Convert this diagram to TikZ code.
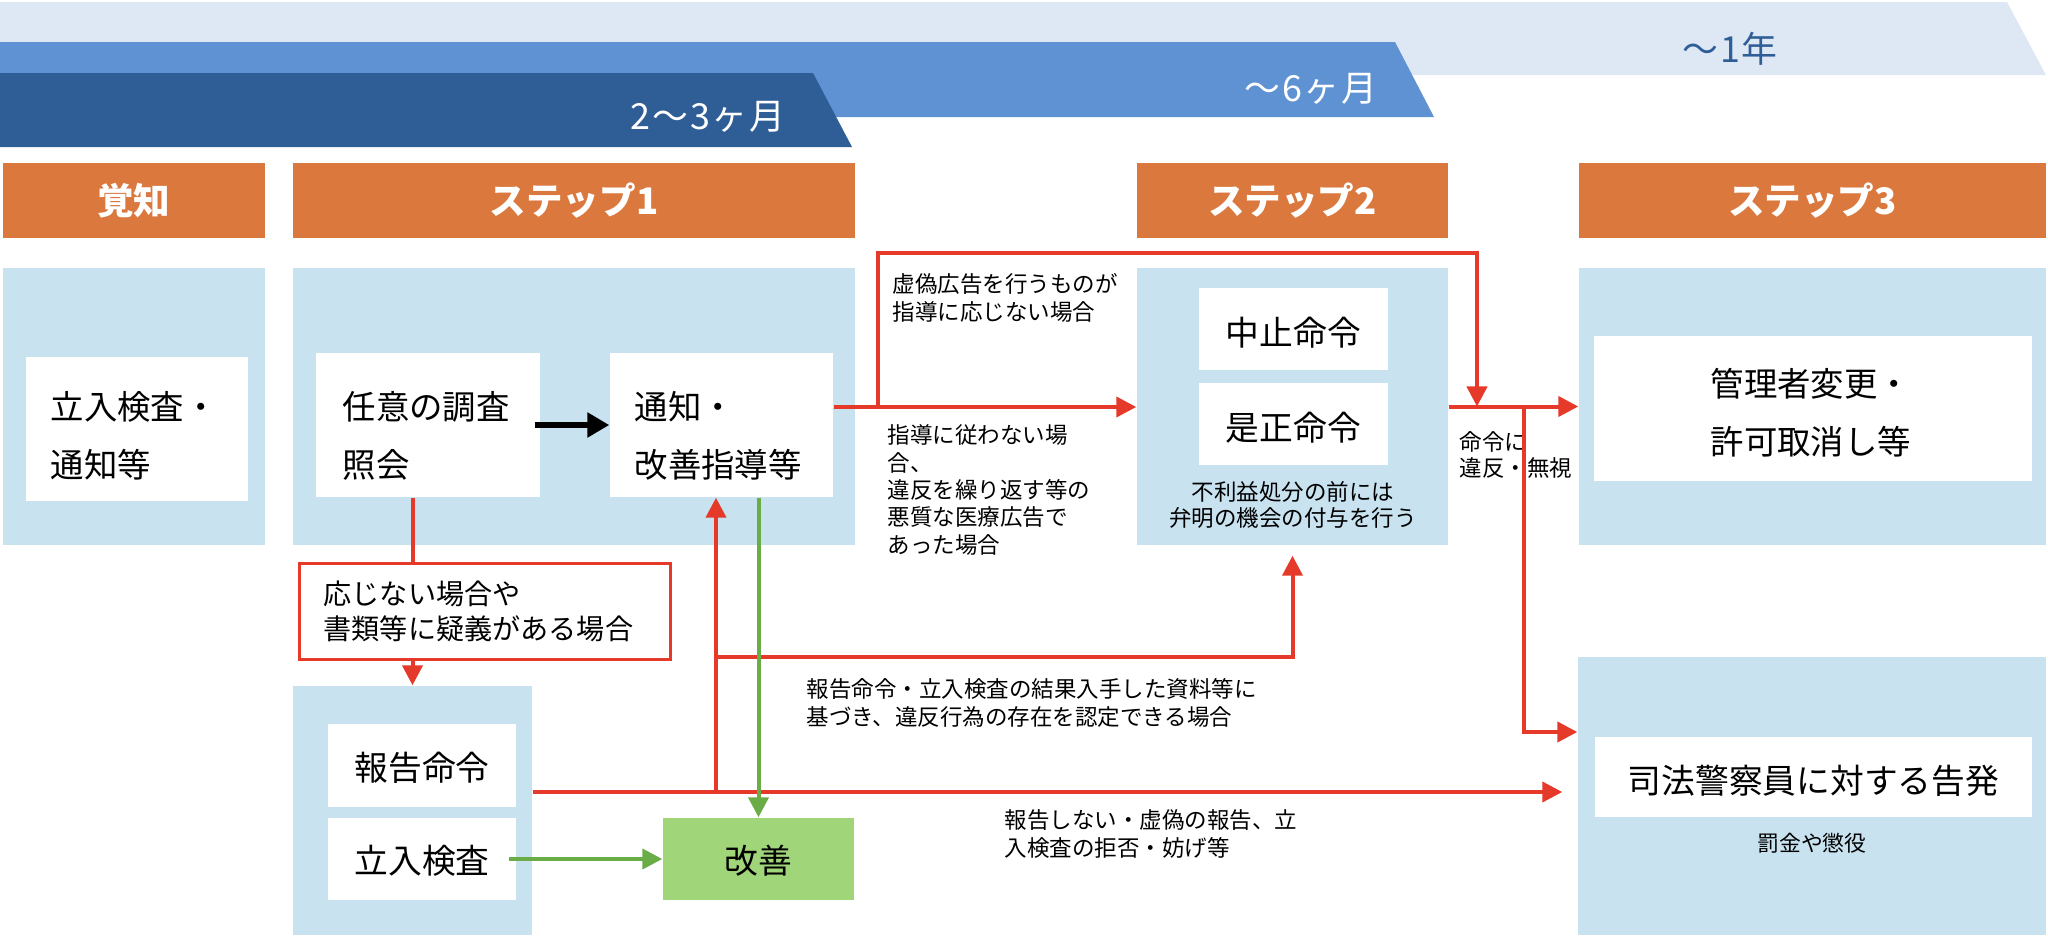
\documentclass[tikz,border=0pt]{standalone}
\usepackage{fontspec}
\setmainfont{Noto Sans CJK JP}
\usetikzlibrary{arrows.meta, calc, positioning, fit}

\definecolor{bandlight}{RGB}{222,232,245}
\definecolor{bandmid}{RGB}{95,146,210}
\definecolor{banddark}{RGB}{47,93,150}
\definecolor{hdrorange}{RGB}{218,120,62}
\definecolor{panelblue}{RGB}{200,226,240}
\definecolor{arrred}{RGB}{229,57,41}
\definecolor{arrgreen}{RGB}{106,172,70}
\definecolor{goodgreen}{RGB}{160,213,122}

\newcommand{\fsz}[2]{\fontsize{#1}{#2}\selectfont}

\begin{document}
\begin{tikzpicture}[x=0.01cm, y=-0.01cm,
    hdr/.style={fill=hdrorange, inner sep=0pt},
    hdrtext/.style={text=white, inner sep=0pt, font=\bfseries\fsz{10.4pt}{12pt}},
    panel/.style={fill=panelblue, inner sep=0pt},
    wbox/.style={fill=white, inner sep=0pt},
    big/.style={font=\fsz{9.5pt}{16.5pt}, align=left, inner sep=0pt, anchor=west},
    mid/.style={font=\fsz{9.6pt}{12pt}, inner sep=0pt},
    note/.style={font=\fsz{6.4pt}{8pt}, align=left, inner sep=0pt, anchor=west},
    bandtext/.style={font=\fsz{10.2pt}{12pt}\addfontfeature{LetterSpace=5}, inner sep=0pt},
    redline/.style={draw=arrred, line width=0.04cm},
    redarr/.style={redline, -{Triangle[length=0.2cm, width=0.2cm]}},
    greenarr/.style={draw=arrgreen, line width=0.04cm, -{Triangle[length=0.2cm, width=0.2cm]}},
  ]
  \useasboundingbox (0,0) rectangle (2048,936);

  % Draw time bands
  \fill[bandlight] (0,2) -- (2007,2) -- (2046,75) -- (0,75) -- cycle;
  \fill[bandmid] (0,42) -- (1395,42) -- (1434,117) -- (0,117) -- cycle;
  \fill[banddark] (0,73) -- (813,73) -- (852,147) -- (0,147) -- cycle;
  \node[bandtext, text=banddark] (y1) at (1730,49) {〜1年};
  \node[bandtext, text=white] (m6) at (1311,89) {〜6ヶ月};
  \node[bandtext, text=white] (m23) at (708,117) {2〜3ヶ月};

  % Draw step headers
  \node[hdr, fit={(3,163) (265,238)}] (h0) {};
  \node[hdr, fit={(293,163) (855,238)}] (h1) {};
  \node[hdr, fit={(1137,163) (1448,238)}] (h2) {};
  \node[hdr, fit={(1579,163) (2046,238)}] (h3) {};
  \node[hdrtext] (ht0) at (h0.center) {覚知};
  \node[hdrtext] (ht1) at (h1.center) {ステップ1};
  \node[hdrtext] (ht2) at (h2.center) {ステップ2};
  \node[hdrtext] (ht3) at (h3.center) {ステップ3};

  % Draw panels
  \node[panel, fit={(3,268) (265,545)}] (p0) {};
  \node[panel, fit={(293,268) (855,545)}] (p1) {};
  \node[panel, fit={(1137,268) (1448,545)}] (p2) {};
  \node[panel, fit={(1579,268) (2046,545)}] (p3) {};
  \node[panel, fit={(1578,657) (2046,935)}] (p4) {};
  \node[panel, fit={(293,686) (532,935)}] (p5) {};

  % Draw boxes
  \node[wbox, fit={(26,357) (248,501)}] (w0) {};
  \node[wbox, fit={(316,353) (540,497)}] (w1) {};
  \node[wbox, fit={(610,353) (833,497)}] (w2) {};
  \node[wbox, fit={(1199,288) (1388,370)}] (w3) {};
  \node[wbox, fit={(1199,383) (1388,465)}] (w4) {};
  \node[wbox, fit={(1594,336) (2032,481)}] (w5) {};
  \node[wbox, fit={(328,724) (516,807)}] (w6) {};
  \node[wbox, fit={(328,818) (516,900)}] (w7) {};
  \node[wbox, fit={(1595,737) (2032,817)}] (w8) {};
  \node[wbox, fill=goodgreen, fit={(663,818) (854,900)}] (kz) {};
  \node[wbox, draw=arrred, line width=0.03cm, fit={(299,563) (670,659)}] (rb) {};

  % Label boxes
  \node[big] (t0) at (50,436) {立入検査・\\通知等};
  \node[big] (t1) at (342,436) {任意の調査\\照会};
  \node[big] (t2) at (634,436) {通知・\\改善指導等};
  \node[big] (t5) at (1710,413) {管理者変更・\\許可取消し等};
  \node[big, font=\fsz{8pt}{10pt}] (tr) at (323,611) {応じない場合や\\書類等に疑義がある場合};
  \node[mid] (t3) at ([yshift=-0.04cm]w3.center) {中止命令};
  \node[mid] (t4) at ([yshift=-0.04cm]w4.center) {是正命令};
  \node[mid] (t6) at ([yshift=-0.02cm]w6.center) {報告命令};
  \node[mid] (t7) at ([yshift=-0.02cm]w7.center) {立入検査};
  \node[mid] (t8) at ([yshift=-0.04cm]w8.center) {司法警察員に対する告発};
  \node[mid] (tk) at ([yshift=-0.02cm]kz.center) {改善};

  % Label conditions
  \node[note] (n1) at (892,298) {虚偽広告を行うものが\\指導に応じない場合};
  \node[note, font=\fsz{6.4pt}{7.8pt}] (n2) at (887,490) {指導に従わない場\\合、\\違反を繰り返す等の\\悪質な医療広告で\\あった場合};
  \node[note, font=\fsz{6.4pt}{7.4pt}] (n3) at (1459,455) {命令に\\違反・無視};
  \node[note] (n4) at (806,703) {報告命令・立入検査の結果入手した資料等に\\基づき、違反行為の存在を認定できる場合};
  \node[note] (n5) at (1004,834) {報告しない・虚偽の報告、立\\入検査の拒否・妨げ等};
  \node[note, anchor=center, align=center, font=\fsz{6.4pt}{7.4pt}] (n6) at (1293,505) {不利益処分の前には\\弁明の機会の付与を行う};
  \node[note, anchor=center, font=\fsz{6.2pt}{7.4pt}] (n7) at (1812,843) {罰金や懲役};

  % Draw red arrows
  \coordinate (jA) at (878,407);
  \coordinate (jT) at (1477,253);
  \coordinate (jR) at (1524,407);
  \coordinate (jR2) at (1524,732);
  \coordinate (jL) at (716,792);
  \coordinate (jM) at (716,657);
  \draw[redarr] (w2.east |- jA) -- (p2.west |- jA);
  \draw[redarr] (jA) |- (jT) -- (jT |- p2.east);
  \draw[redarr] (p2.east) -- (p3.west);
  \draw[redarr] (jR) -- (jR2) -- (jR2 -| p4.west);
  \draw[redline] (w1.south -| p5.north) -- (rb.north -| p5.north);
  \draw[redarr] (rb.south -| p5.north) -- (p5.north);
  \draw[redarr] (p5.east |- jL) -- ([xshift=-0.15cm]p4.west |- jL);
  \draw[redarr] (jL) -- (jL |- w2.south);
  \draw[redarr, shorten >=0.1cm] (jM) -| (p2.south);

  % Draw black and green arrows
  \draw[line width=0.06cm, -{Triangle[length=0.22cm, width=0.24cm]}] ([xshift=-0.06cm]w1.east) -- (w2.west);
  \draw[greenarr] (w2.south -| kz.north) -- (kz.north);
  \draw[greenarr] ([xshift=-0.08cm]w7.east) -- (kz.west);

\end{tikzpicture}
\end{document}
